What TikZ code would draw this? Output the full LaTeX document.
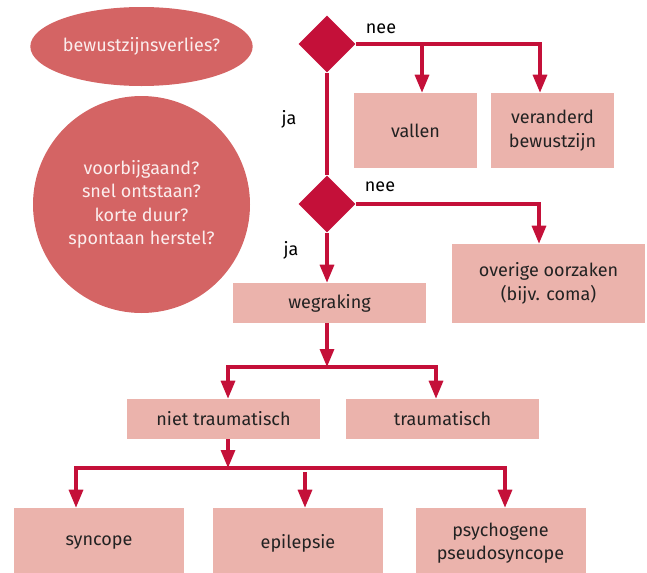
\documentclass[tikz,border=0pt]{standalone}
\usepackage{fontspec}
\setmainfont{Fira Sans}
\usetikzlibrary{arrows.meta}
\usetikzlibrary{shapes.geometric}
\tikzset{->/.style = {-{Triangle[length=13.5pt, width=10.5pt]}}}
\tikzset{box/.style = {fill=mpink, inner sep=0, align=center, text=mtext}}
\tikzset{squarebox/.style = {box, minimum width=92.25pt, minimum height=56.25pt}}
\tikzset{widebox/.style = {box, minimum width=144.75pt, minimum height=30pt}}
\tikzset{lowbox/.style = {box, minimum width=127.5pt, minimum height=52.5pt}}
\tikzset{question/.style = {fill=mrose, inner sep=0, align=center, text=mwhite}}
\tikzset{choice/.style = {diamond, fill=mred, inner sep=0, minimum width=42.75pt, minimum height=42.75pt}}
\definecolor{mred}{HTML}{C41039}
\definecolor{mrose}{HTML}{D46464}
\definecolor{mpink}{HTML}{EBB3AC}
\definecolor{mtext}{HTML}{222222}
\definecolor{mwhite}{HTML}{FBEDED}

\begin{document}
\begin{tikzpicture}[x=0.75pt, y=-0.75pt, font=\fontsize{13.5}{17.5}\selectfont]
      \useasboundingbox (0,0) rectangle (647,572);

      \node [question, ellipse, minimum width=162.75pt, minimum height=59.25pt] (loss) at (141.5,46.5) {bewustzijnsverlies?};
      \node [question, circle, minimum size=162.75pt] (criteria) at (141.5,204.5)
            {voorbijgaand?\\snel ontstaan?\\korte duur?\\spontaan herstel?};

      \node [choice] (d1) at (327,44) {};
      \node [choice] (d2) at (327,204) {};

      \node [squarebox] (vallen) at (415.5,130.5) {vallen};
      \node [squarebox] (veranderd) at (552.5,130.5) {veranderd\\bewustzijn};
      \node [widebox, minimum height=59.25pt] (overig) at (548.5,283.5) {overige oorzaken\\(bijv. coma)};
      \node [widebox] (wegraking) at (329.5,303) {wegraking};
      \node [widebox] (niet) at (223.5,419) {niet traumatisch};
      \node [widebox] (trauma) at (442.5,419) {traumatisch};
      \node [lowbox] (syncope) at (99,543) {syncope};
      \node [lowbox] (epilepsie) at (298,543) {epilepsie};
      \node [lowbox] (psycho) at (500.5,543) {psychogene\\pseudosyncope};

      \node (nee1) at (381,29) {nee};
      \node (ja1) at (289,119) {ja};
      \node (nee2) at (380,187) {nee};
      \node (ja2) at (291,250) {ja};

      % arrow columns and junctions
      \coordinate (xv) at (422,0);
      \coordinate (xb) at (540,0);
      \coordinate (xo) at (539,0);
      \coordinate (xn) at (228,0);
      \coordinate (xt) at (436,0);
      \coordinate (xs) at (76,0);
      \coordinate (xp) at (505,0);
      \coordinate (j1) at (0,367);
      \coordinate (j2) at (0,468);
      \coordinate (e0) at (305,472);

      \begin{scope}[draw=mred, fill=mred, line width=2.4pt]
        \draw [->] (d1.east) -| (veranderd.north -| xb);
        \draw [->] (d1.east -| xv) -- (vallen.north -| xv);
        \draw (d1.south) -- (d2.north);

        \draw [->] (d2.east) -| (overig.north -| xo);
        \draw [->] (d2.south) -- (d2.south |- wegraking.north);

        \draw [->] (d2.south |- wegraking.south) -- (d2.south |- j1);
        \draw [->] (d2.south |- j1) -| (niet.north -| xn);
        \draw [->] (d2.south |- j1) -| (trauma.north -| xt);

        \draw [->] (niet.south -| xn) -- (j2 -| xn);
        \draw [->] (j2 -| xn) -| (syncope.north -| xs);
        \draw [->] (j2 -| xn) -| (psycho.north -| xp);
        \draw [->] (e0) -- (epilepsie.north -| e0);
      \end{scope}
    \end{tikzpicture}
\end{document}
